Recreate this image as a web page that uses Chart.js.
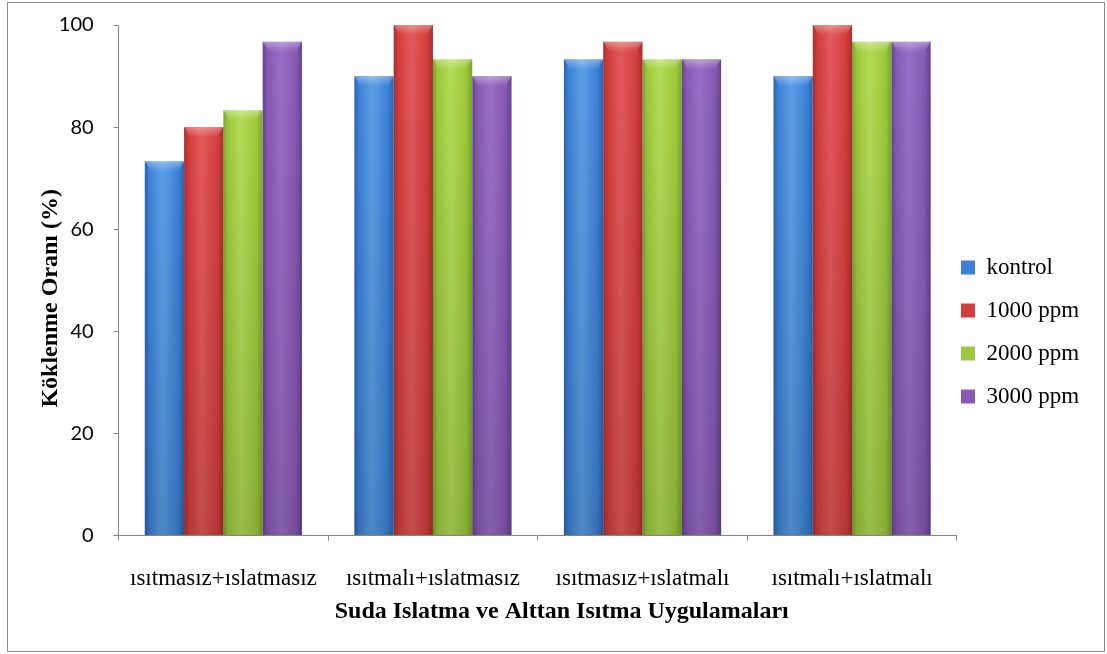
<!DOCTYPE html>
<html>
<head>
<meta charset="utf-8">
<script src="https://cdn.jsdelivr.net/npm/chart.js@4"></script>
<style>
  html, body { margin: 0; padding: 0; background: #fff; }
  #kutu { width: 1107px; height: 654px; }
</style>
</head>
<body>
<div id="kutu"><canvas id="grafik" width="1107" height="654"></canvas></div>
<script>
const kategoriler = ["ısıtmasız+ıslatmasız", "ısıtmalı+ıslatmasız", "ısıtmasız+ıslatmalı", "ısıtmalı+ıslatmalı"];
const seriler = ["kontrol", "1000 ppm", "2000 ppm", "3000 ppm"];
const kontrol = [73.3, 90, 93.3, 90];
const ppm1000 = [80, 100, 96.7, 100];
const ppm2000 = [83.3, 93.3, 93.3, 96.7];
const ppm3000 = [96.7, 90, 93.3, 96.7];
const yTicks = [0, 20, 40, 60, 80, 100];

// renkler: [kenar, ana, orta]
const tonlar = [
  ["#2b63b3", "#3c82d6", "#5c9fe6"],
  ["#a92e2e", "#d43d3d", "#e45a5a"],
  ["#7ba32c", "#9cc93b", "#b4dc58"],
  ["#65418f", "#8659b5", "#9a70c6"]
];

const cerceve = {
  id: "cerceve",
  beforeDraw(chart) {
    const ctx = chart.ctx;
    ctx.save();
    ctx.fillStyle = "#fff";
    ctx.fillRect(0, 0, chart.width, chart.height);
    ctx.strokeStyle = "#8a8a8a";
    ctx.lineWidth = 1;
    ctx.strokeRect(7.5, 2.5, 1097, 649);
    ctx.restore();
  }
};

// lejantı sağ tarafta yerine koy
const lejantYeri = {
  id: "lejantYeri",
  afterLayout(chart) {
    const l = chart.legend;
    if (!l) return;
    l.left = 941; l.right = l.left + l.width;
    l.top = 236; l.bottom = l.top + l.height;
  }
};

// Excel tarzı silindirik çubuk görünümü
const golge = {
  id: "golge",
  beforeDatasetsDraw(chart) {
    const ctx = chart.ctx;
    chart.data.datasets.forEach((ds, i) => {
      const [koyu, ana, acik] = tonlar[i];
      chart.getDatasetMeta(i).data.forEach(bar => {
        const x0 = bar.x - bar.width / 2, x1 = bar.x + bar.width / 2;
        const g = ctx.createLinearGradient(x0, 0, x1, 0);
        g.addColorStop(0, koyu);
        g.addColorStop(0.12, ana);
        g.addColorStop(0.45, acik);
        g.addColorStop(0.85, ana);
        g.addColorStop(1, koyu);
        bar.options.backgroundColor = g;
      });
    });
  },
  afterDatasetsDraw(chart) {
    const ctx = chart.ctx;
    ctx.save();
    chart.data.datasets.forEach((ds, i) => {
      chart.getDatasetMeta(i).data.forEach(bar => {
        const x0 = bar.x - bar.width / 2;
        const v = ctx.createLinearGradient(0, bar.y, 0, bar.base);
        v.addColorStop(0, "rgba(0,0,0,0)");
        v.addColorStop(1, "rgba(0,0,0,0.14)");
        ctx.fillStyle = v;
        ctx.fillRect(x0, bar.y, bar.width, bar.base - bar.y);
        const t = ctx.createLinearGradient(0, bar.y, 0, bar.y + 10);
        t.addColorStop(0, "rgba(255,255,255,0.35)");
        t.addColorStop(1, "rgba(255,255,255,0)");
        ctx.fillStyle = t;
        ctx.beginPath();
        ctx.moveTo(x0, bar.y);
        ctx.lineTo(x0 + bar.width, bar.y);
        ctx.lineTo(x0 + bar.width - 6, bar.y + 10);
        ctx.lineTo(x0 + 6, bar.y + 10);
        ctx.closePath();
        ctx.fill();
      });
    });
    ctx.restore();
  }
};

const degerler = [kontrol, ppm1000, ppm2000, ppm3000];
const eksenRengi = "#868686";
const bosluk = "\u2002";

new Chart(document.getElementById("grafik"), {
  type: "bar",
  data: {
    labels: kategoriler,
    datasets: seriler.map((ad, i) => ({
      label: ad,
      data: degerler[i],
      backgroundColor: () => tonlar[i][1],
      borderWidth: 0,
      categoryPercentage: 0.75,
      barPercentage: 1
    }))
  },
  options: {
    responsive: false,
    animation: false,
    layout: { padding: { left: 34, right: 2, top: 18, bottom: 28 } },
    plugins: {
      tooltip: { enabled: false },
      legend: {
        position: "right",
        align: "start",
        labels: {
          boxWidth: 14, boxHeight: 14, padding: 20, color: "#000",
          font: { family: "Liberation Serif", size: 23 }
        }
      }
    },
    scales: {
      x: {
        border: { color: eksenRengi },
        grid: { drawOnChartArea: false, tickLength: 5, color: eksenRengi },
        ticks: { color: "#000", padding: 25, maxRotation: 0, font: { family: "Liberation Serif", size: 23 } },
        title: {
          display: true, text: bosluk.repeat(4) + "Suda Islatma ve Alttan Isıtma Uygulamaları", color: "#000",
          font: { family: "Liberation Serif", size: 24, weight: "bold" },
          padding: { top: -21, bottom: 0 }
        }
      },
      y: {
        min: 0, max: 100,
        afterBuildTicks: s => { s.ticks = yTicks.map(v => ({ value: v })); },
        border: { color: eksenRengi },
        grid: { drawOnChartArea: false, tickLength: 5, color: eksenRengi },
        ticks: { color: "#000", padding: 20, font: { family: "Lato", size: 20, lineHeight: 0.5 } },
        title: {
          display: true, text: "Köklenme Oranı (%)" + bosluk.repeat(3), color: "#000",
          font: { family: "Liberation Serif", size: 24, weight: "bold" },
          padding: { top: 2, bottom: -26 }
        }
      }
    }
  },
  plugins: [cerceve, lejantYeri, golge]
});
</script>
</body>
</html>
